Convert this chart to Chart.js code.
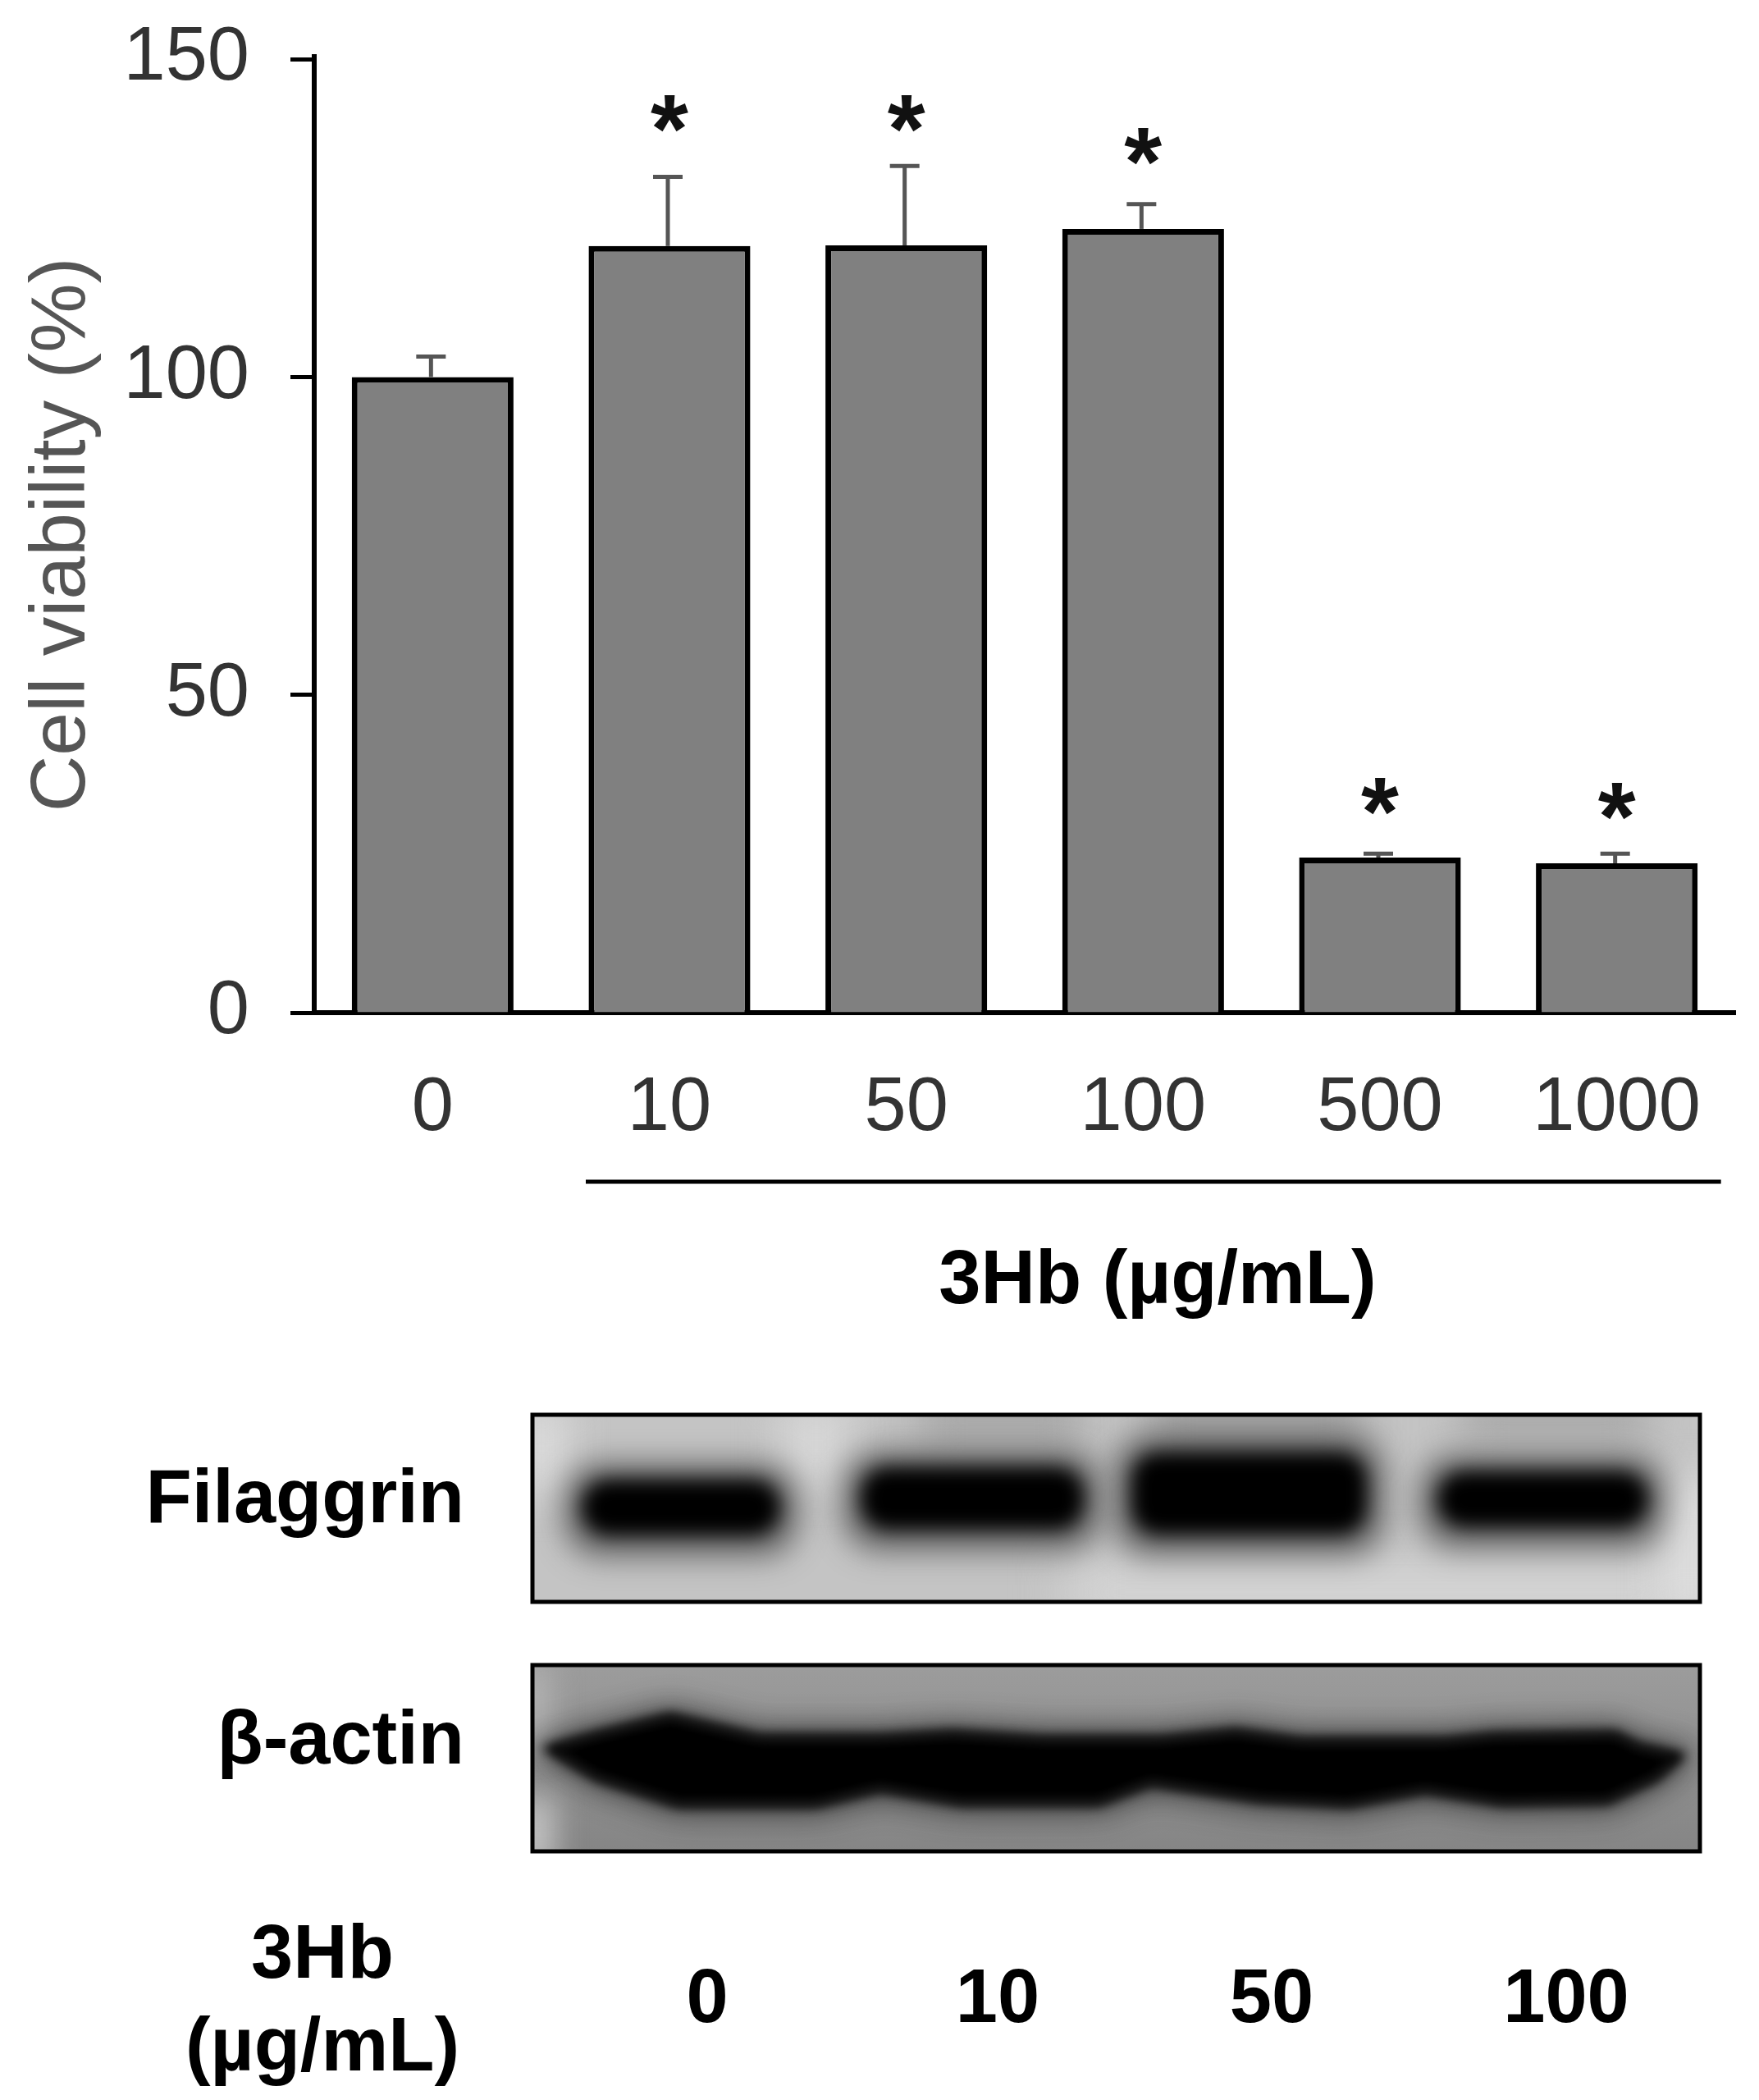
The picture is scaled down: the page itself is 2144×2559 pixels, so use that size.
<!DOCTYPE html>
<html>
<head>
<meta charset="utf-8">
<title>Cell viability and filaggrin</title>
<style>
  html, body { margin: 0; padding: 0; background: #fff; }
  canvas { display: block; }
</style>
<script src="https://cdn.jsdelivr.net/npm/chart.js@4/dist/chart.umd.min.js"></script>
</head>
<body>
<canvas id="chartViability" width="2144" height="2559"></canvas>
<script>
// values
const doses = ['0', '10', '50', '100', '500', '1000'];
const viability = [100, 120.6, 120.7, 123.3, 24.4, 23.5];
const errorTop = [103.2, 131.5, 133.2, 127.2, 25, 25];
const starLevel = [null, 141.4, 141.4, 136.2, 34, 33.2];
const yTicks = [0, 50, 100, 150];
const blotDoses = ['0', '10', '50', '100'];

const FONT = '"Liberation Sans", Arial, sans-serif';
const TEXT_SIZE = 92;

function label(ctx, text, x, y, align) {
  ctx.font = 'bold ' + TEXT_SIZE + 'px ' + FONT;
  ctx.fillStyle = '#000';
  ctx.textAlign = align || 'center';
  ctx.textBaseline = 'middle';
  ctx.fillText(text, x, y);
}

// blurred patch, used for the two blot pictures
function patch(ctx, blur, color, x, y, w, h, r) {
  ctx.filter = 'blur(' + blur + 'px)';
  ctx.fillStyle = color;
  ctx.beginPath();
  ctx.roundRect(x, y, w, h, r || 0);
  ctx.fill();
}

function drawFilaggrin(ctx) {
  const box = [649, 1724, 1423, 228];
  ctx.save();
  ctx.beginPath();
  ctx.rect(box[0], box[1], box[2], box[3]);
  ctx.clip();
  ctx.fillStyle = '#c4c4c4';
  ctx.fillRect(box[0], box[1], box[2], box[3]);
  // background shading
  patch(ctx, 25, '#dcdcdc', 630, 1710, 60, 110);
  patch(ctx, 25, '#d6d6d6', 950, 1710, 90, 100);
  patch(ctx, 25, '#a6a6a6', 1120, 1700, 200, 60);
  patch(ctx, 25, '#a2a2a2', 1400, 1700, 260, 70);
  patch(ctx, 25, '#a4a4a4', 1780, 1700, 230, 50);
  patch(ctx, 30, '#d6d6d6', 1300, 1905, 760, 70);
  patch(ctx, 25, '#e0e0e0', 2030, 1800, 60, 170);
  // bands
  const bands = [[695, 1795, 270, 84], [1035, 1780, 300, 92], [1365, 1762, 315, 116], [1738, 1785, 285, 84]];
  bands.forEach(b => patch(ctx, 18, 'rgba(50,50,50,0.65)', b[0] - 8, b[1] - 12, b[2] + 16, b[3] + 30, 45));
  bands.forEach(b => patch(ctx, 11, '#000', b[0] + 14, b[1] + 8, b[2] - 28, b[3] - 16, 34));
  ctx.restore();
  ctx.lineWidth = 5;
  ctx.strokeStyle = '#000';
  ctx.strokeRect(box[0], box[1], box[2], box[3]);
}

function drawActin(ctx) {
  const box = [649, 2029, 1423, 227];
  const outline = [[669, 2131], [728, 2114], [817, 2092], [925, 2118], [1073, 2118], [1161, 2113], [1270, 2120],
    [1417, 2120], [1506, 2111], [1585, 2122], [1762, 2122], [1821, 2116], [1969, 2114], [1998, 2129], [2048, 2140],
    [2018, 2166], [1959, 2194], [1831, 2196], [1737, 2181], [1644, 2198], [1535, 2192], [1403, 2172], [1339, 2196],
    [1171, 2196], [1073, 2179], [994, 2198], [826, 2198], [728, 2166]];
  ctx.save();
  ctx.beginPath();
  ctx.rect(box[0], box[1], box[2], box[3]);
  ctx.clip();
  const bg = ctx.createLinearGradient(0, box[1], 0, box[1] + box[3]);
  bg.addColorStop(0, '#9c9c9c');
  bg.addColorStop(1, '#858585');
  ctx.fillStyle = bg;
  ctx.fillRect(box[0], box[1], box[2], box[3]);
  patch(ctx, 18, '#c4c4c4', 630, 2190, 45, 90);
  patch(ctx, 18, '#b4b4b4', 630, 2030, 40, 100);
  [18, 7].forEach((blur, i) => {
    ctx.filter = 'blur(' + blur + 'px)';
    ctx.fillStyle = i ? '#000' : 'rgba(30,30,30,0.6)';
    ctx.strokeStyle = ctx.fillStyle;
    ctx.lineWidth = i ? 8 : 24;
    ctx.beginPath();
    outline.forEach((p, n) => n ? ctx.lineTo(p[0], p[1]) : ctx.moveTo(p[0], p[1]));
    ctx.closePath();
    ctx.fill();
    ctx.stroke();
  });
  ctx.restore();
  ctx.lineWidth = 5;
  ctx.strokeStyle = '#000';
  ctx.strokeRect(box[0], box[1], box[2], box[3]);
}

// error bars, stars and everything below the axis
const extras = {
  id: 'extras',
  afterDatasetsDraw(chart) {
    const ctx = chart.ctx;
    const xs = chart.scales.x;
    const ys = chart.scales.y;

    ctx.save();
    ctx.strokeStyle = '#555';
    doses.forEach((d, i) => {
      const x = xs.getPixelForValue(i) - 2;
      ctx.lineWidth = 5;
      ctx.beginPath();
      ctx.moveTo(x, ys.getPixelForValue(viability[i]));
      ctx.lineTo(x, ys.getPixelForValue(errorTop[i]));
      ctx.stroke();
      ctx.lineWidth = 5;
      ctx.beginPath();
      ctx.moveTo(x - 18, ys.getPixelForValue(errorTop[i]));
      ctx.lineTo(x + 18, ys.getPixelForValue(errorTop[i]));
      ctx.stroke();
    });

    ctx.font = 'bold 118px ' + FONT;
    ctx.fillStyle = '#111';
    ctx.textAlign = 'center';
    ctx.textBaseline = 'alphabetic';
    starLevel.forEach((level, i) => {
      if (level === null) return;
      const m = ctx.measureText('*');
      const mid = (m.actualBoundingBoxAscent - m.actualBoundingBoxDescent) / 2;
      ctx.fillText('*', xs.getPixelForValue(i), ys.getPixelForValue(level) + mid);
    });

    // bracket under the treated doses
    ctx.strokeStyle = '#000';
    ctx.lineWidth = 5;
    ctx.beginPath();
    ctx.moveTo(xs.getPixelForValue(1) - 102, 1440);
    ctx.lineTo(xs.getPixelForValue(5) + 127, 1440);
    ctx.stroke();

    label(ctx, '3Hb (µg/mL)', 1411, 1563);

    drawFilaggrin(ctx);
    drawActin(ctx);
    ctx.filter = 'none';

    label(ctx, 'Filaggrin', 566, 1830, 'right');
    label(ctx, 'β-actin', 566, 2124, 'right');
    label(ctx, '3Hb', 393, 2385);
    label(ctx, '(µg/mL)', 393, 2498);
    const laneX = [862, 1216, 1550, 1909];
    blotDoses.forEach((d, i) => label(ctx, d, laneX[i], 2439));
    ctx.restore();
  }
};

new Chart(document.getElementById('chartViability'), {
  type: 'bar',
  data: {
    labels: doses,
    datasets: [{
      label: 'Cell viability (%)',
      data: viability,
      backgroundColor: '#808080',
      borderColor: '#000',
      borderWidth: 7,
      borderSkipped: 'bottom',
      barPercentage: 0.683,
      categoryPercentage: 1
    }]
  },
  options: {
    responsive: false,
    animation: false,
    layout: { padding: { top: 69, left: 0, right: 29, bottom: 0 } },
    plugins: { legend: { display: false }, tooltip: { enabled: false } },
    scales: {
      x: {
        afterFit: scale => { scale.height = 1325; scale.paddingLeft = 0; scale.paddingRight = 0; },
        grid: { display: false },
        border: { display: true, color: '#000', width: 6 },
        ticks: { color: '#333', font: { family: FONT, size: 92 }, padding: 54, maxRotation: 0, autoSkip: false }
      },
      y: {
        min: 0,
        max: 150.4,
        afterFit: scale => { scale.width = 383; scale.paddingTop = 0; scale.paddingBottom = 0; },
        afterBuildTicks: scale => { scale.ticks = yTicks.map(v => ({ value: v })); },
        grid: { drawOnChartArea: false, drawTicks: true, tickLength: 29, tickWidth: 5, tickColor: '#000' },
        border: { display: true, color: '#000', width: 6 },
        ticks: { color: '#333', font: { family: FONT, size: 92 }, padding: 50 },
        title: {
          display: true,
          text: 'Cell viability (%)',
          color: '#555',
          font: { family: FONT, size: 95 },
          padding: { top: 20, bottom: 0 }
        }
      }
    }
  },
  plugins: [extras]
});
</script>
</body>
</html>
